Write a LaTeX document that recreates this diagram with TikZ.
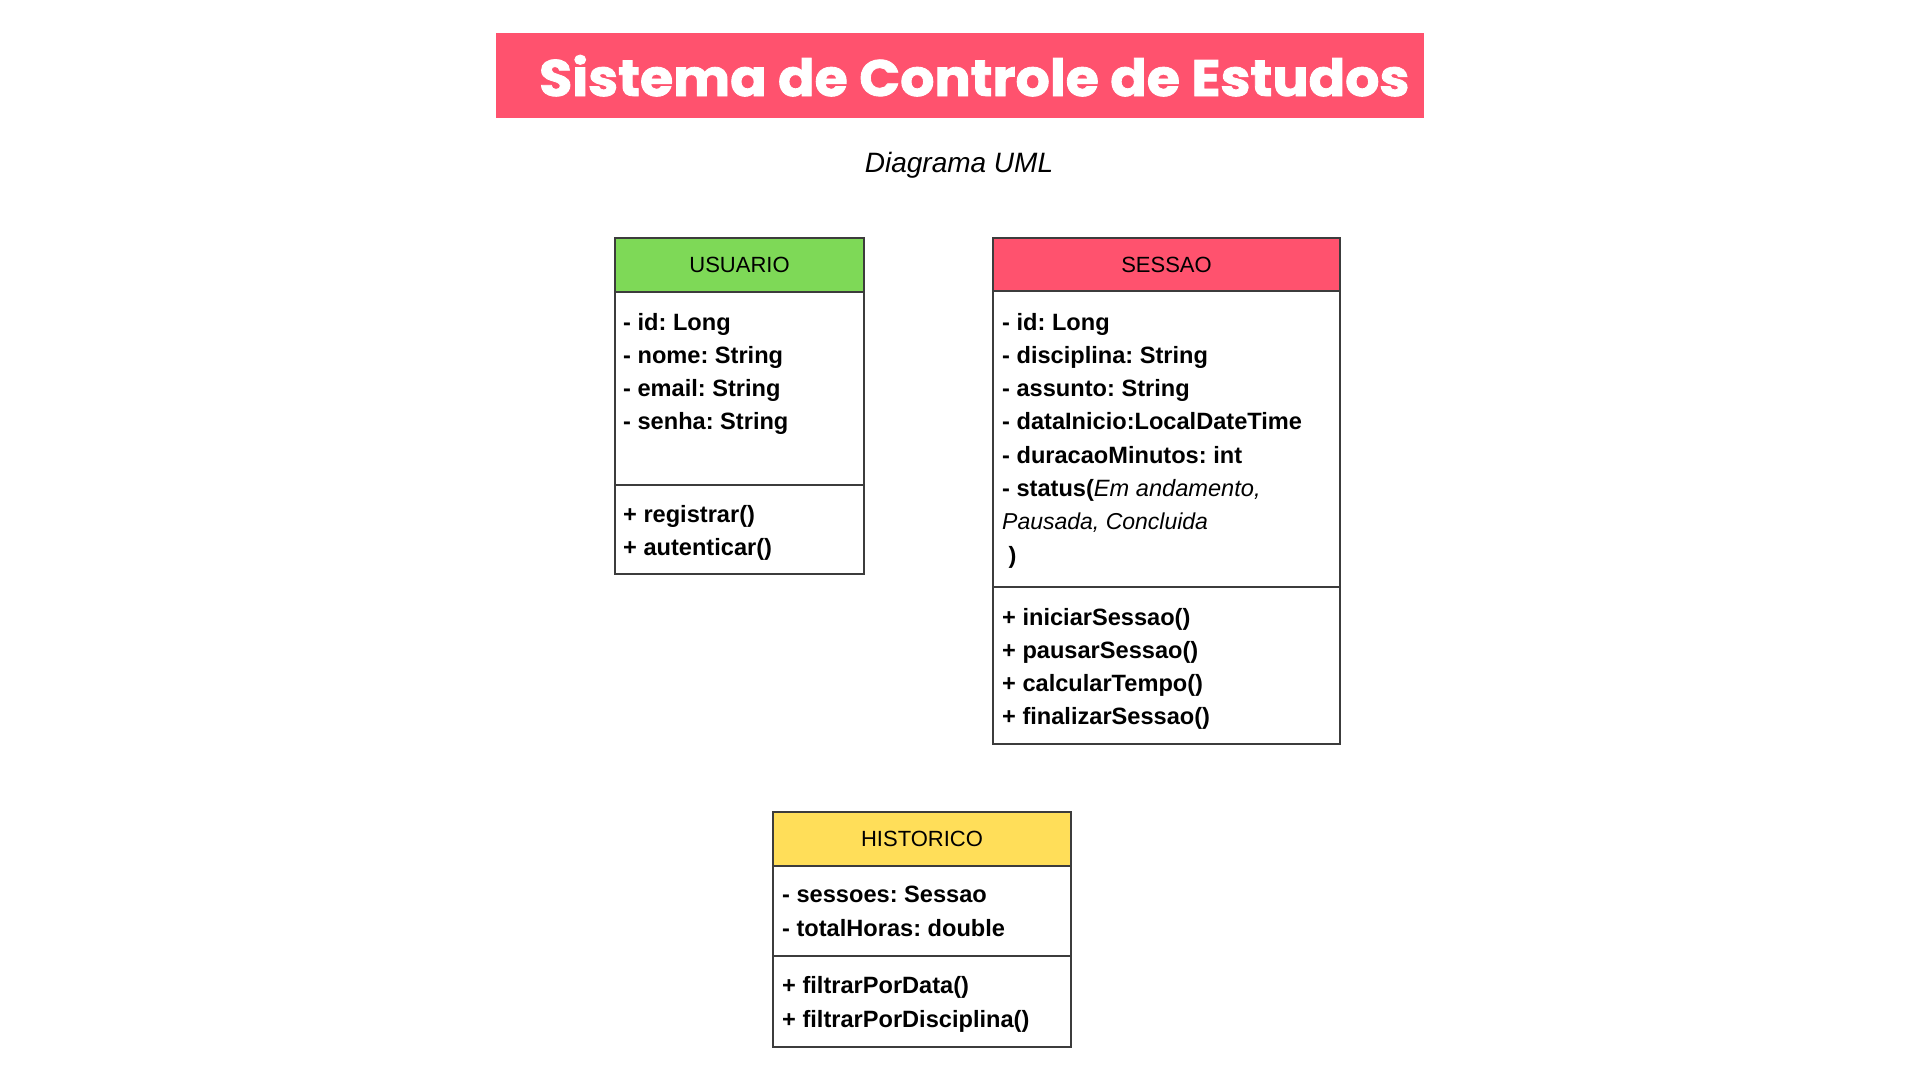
\documentclass[tikz,border=0pt]{standalone}
\usepackage{fontspec}
\setmainfont{Liberation Sans}
\newfontfamily\titlefont{Poppins}[BoldFeatures={FakeBold=1.6}]
\definecolor{titlered}{HTML}{FF526E}
\definecolor{hdrgreen}{HTML}{7ED957}
\definecolor{hdrred}{HTML}{FF526E}
\definecolor{hdryellow}{HTML}{FFDE59}
\definecolor{linegray}{HTML}{3C3C3C}
\tikzset{
  box/.style={draw=linegray, line width=1.1pt, anchor=north west, inner sep=0pt, outer sep=0pt},
  hdrtext/.style={inner sep=0pt, font=\fontsize{22}{26}\selectfont},
  item/.style={anchor=base west, inner sep=0pt, font=\fontsize{23.6}{28}\selectfont\bfseries},
}
\begin{document}
\frenchspacing
\begin{tikzpicture}[x=1pt,y=-1pt]
\fill[white] (0,0) rectangle (1920,1080);
\useasboundingbox (0,0) rectangle (1920,1080);
% title
\node[fill=titlered, anchor=north west, inner sep=0pt, minimum width=928pt, minimum height=85pt] (titlebox) at (496,33) {};
\node[anchor=base west, inner sep=0pt, text=white] (title) at (539,96) {\resizebox{870pt}{41pt}{\titlefont\bfseries Sistema de Controle de Estudos}};
\node[anchor=base, inner sep=0pt, font=\fontsize{28}{32}\selectfont\itshape] (subtitle) at (959,172) {Diagrama UML};

% USUARIO
\node[box, fill=hdrgreen, minimum width=249pt, minimum height=54pt] (usuH) at (615,238) {};
\node[hdrtext] (usuT) at (usuH.center) {USUARIO};
\node[box, minimum width=249pt, minimum height=193pt] (usuA) at (615,292) {};
\node[box, minimum width=249pt, minimum height=89pt] (usuM) at (615,485) {};
\node[item] (u1) at (623,330) {- id: Long};
\node[item] (u2) at (623,363) {- nome: String};
\node[item] (u3) at (623,396) {- email: String};
\node[item] (u4) at (623,429) {- senha: String};
\node[item] (u5) at (623,522) {+ registrar()};
\node[item] (u6) at (623,555) {+ autenticar()};

% SESSAO
\node[box, fill=hdrred, minimum width=347pt, minimum height=53pt] (sesH) at (993,238) {};
\node[hdrtext] (sesT) at (sesH.center) {SESSAO};
\node[box, minimum width=347pt, minimum height=296pt] (sesA) at (993,291) {};
\node[box, minimum width=347pt, minimum height=157pt] (sesM) at (993,587) {};
\node[item] (s1) at (1002,330) {- id: Long};
\node[item] (s2) at (1002,363.3) {- disciplina: String};
\node[item] (s3) at (1002,396.6) {- assunto: String};
\node[item] (s4) at (1002,429.9) {- dataInicio:LocalDateTime};
\node[item] (s5) at (1002,463.2) {- duracaoMinutos: int};
\node[item] (s6) at (1002,496.5) {- status(\mdseries\itshape Em andamento,};
\node[item, font=\fontsize{23}{28}\selectfont\itshape] (s7) at (1002,529.8) {Pausada, Concluida};
\node[item] (s8) at (1002,563.1) {\hspace*{6.4pt})};
\node[item] (s9) at (1002,625) {+ iniciarSessao()};
\node[item] (s10) at (1002,658) {+ pausarSessao()};
\node[item] (s11) at (1002,691) {+ calcularTempo()};
\node[item] (s12) at (1002,724) {+ finalizarSessao()};

% HISTORICO
\node[box, fill=hdryellow, minimum width=298pt, minimum height=54pt] (hisH) at (773,812) {};
\node[hdrtext] (hisT) at (hisH.center) {HISTORICO};
\node[box, minimum width=298pt, minimum height=90pt] (hisA) at (773,866) {};
\node[box, minimum width=298pt, minimum height=91pt] (hisM) at (773,956) {};
\node[item] (h1) at (782,902) {- sessoes: Sessao};
\node[item] (h2) at (782,936) {- totalHoras: double};
\node[item] (h3) at (782,993) {+ filtrarPorData()};
\node[item] (h4) at (782,1027) {+ filtrarPorDisciplina()};
\end{tikzpicture}
\end{document}
